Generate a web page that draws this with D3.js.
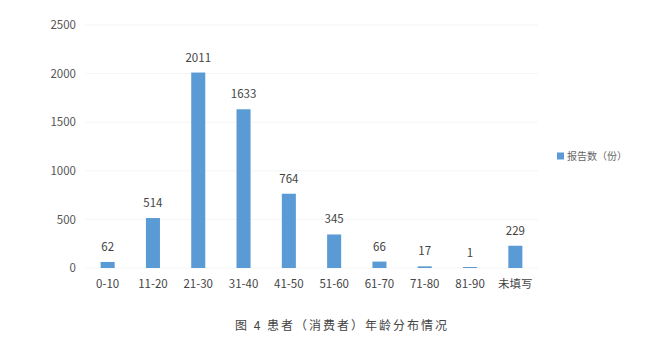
<!DOCTYPE html>
<html>
<head>
<meta charset="utf-8">
<script src="https://cdn.jsdelivr.net/npm/d3@7"></script>
<style>
  html, body { margin: 0; padding: 0; background: #fff; }
  svg { display: block; }
</style>
</head>
<body>
<svg id="chart" width="672" height="350"></svg>
<script>
// Age groups and report counts
const categories = ["0-10", "11-20", "21-30", "31-40", "41-50", "51-60", "61-70", "71-80", "81-90", "未填写"];
const reports = [62, 514, 2011, 1633, 764, 345, 66, 17, 1, 229];
const yTicks = [0, 500, 1000, 1500, 2000, 2500];
const seriesName = "报告数（份）";
const caption = "图 4 患者（消费者）年龄分布情况";

const svg = d3.select("#chart");
const font = "'Noto Sans CJK SC', 'Liberation Sans', sans-serif";

const x = d3.scaleBand().domain(categories).range([85, 538]).paddingInner(0.69).paddingOuter(0.345);
const y = d3.scaleLinear().domain([0, 2500]).range([268, 25]);

// horizontal gridlines
svg.append("g").selectAll("line").data(yTicks).join("line")
  .attr("x1", 85).attr("x2", 538)
  .attr("y1", d => y(d)).attr("y2", d => y(d))
  .attr("stroke", "#f5f5f5").attr("stroke-width", 1);

// y axis labels
const yAxis = svg.append("g")
  .attr("transform", "translate(76,0)")
  .call(d3.axisLeft(y).tickValues(yTicks).tickFormat(d3.format("d")).tickSize(0).tickPadding(0));
yAxis.select(".domain").remove();
yAxis.selectAll("text").attr("font-family", font).attr("font-size", 11.5).attr("fill", "#555");

// x axis labels
const xAxis = svg.append("g")
  .attr("transform", "translate(0,280)")
  .call(d3.axisBottom(x).tickSize(0).tickPadding(0));
xAxis.select(".domain").remove();
xAxis.selectAll("text").attr("font-family", font).attr("font-size", 11.5).attr("fill", "#444")
  .attr("dy", "0.71em");

// bars (tiny counts still get a hairline)
svg.append("g").selectAll("rect").data(reports).join("rect")
  .attr("x", (d, i) => x(categories[i]))
  .attr("width", x.bandwidth())
  .attr("y", d => Math.min(y(d), y(0) - 1))
  .attr("height", d => Math.max(y(0) - y(d), 1))
  .attr("fill", "#5b9bd5");

// value labels
svg.append("g").selectAll("text").data(reports).join("text")
  .attr("x", (d, i) => x(categories[i]) + x.bandwidth() / 2)
  .attr("y", d => y(d) - 11)
  .attr("text-anchor", "middle")
  .attr("font-family", font).attr("font-size", 11.5).attr("fill", "#444")
  .text(d => d);

// legend
const legend = svg.append("g").attr("transform", "translate(557,156)");
legend.append("rect").attr("x", 0).attr("y", -3.5).attr("width", 7).attr("height", 7).attr("fill", "#5b9bd5");
legend.append("text").attr("x", 10).attr("y", 0).attr("dy", "0.35em")
  .attr("font-family", font).attr("font-size", 10).attr("fill", "#666")
  .text(seriesName);

// caption
svg.append("text")
  .attr("x", 342).attr("y", 326).attr("dy", "0.35em")
  .attr("text-anchor", "middle")
  .attr("font-family", font).attr("font-size", 12).attr("fill", "#444")
  .attr("letter-spacing", "2px")
  .text(caption);
</script>
</body>
</html>
